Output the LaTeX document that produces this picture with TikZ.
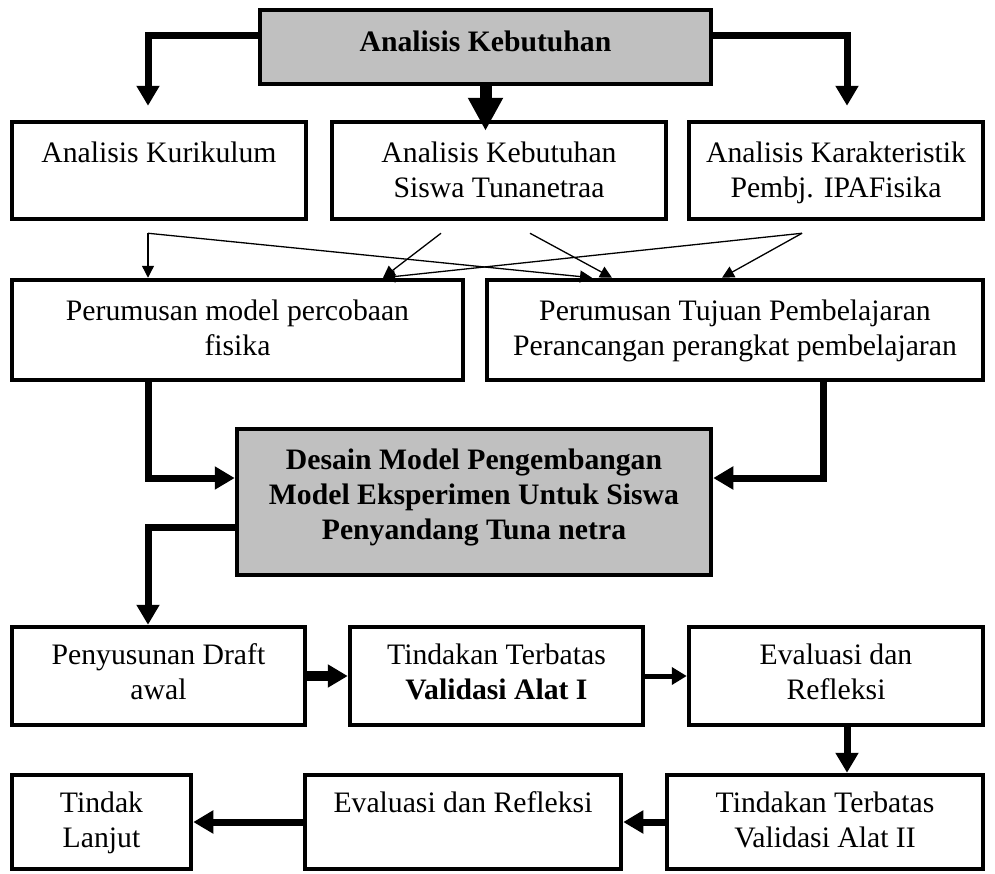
\documentclass[tikz,border=0pt]{standalone}
\usepackage{fontspec}
\setmainfont{Liberation Serif}
\usetikzlibrary{arrows.meta}
\definecolor{boxgray}{RGB}{192,192,192}
\begin{document}
\begin{tikzpicture}[x=1pt,y=-1pt,
  box/.style={draw, line width=4.5pt, rectangle, inner sep=0pt, align=center,
    font=\fontsize{29.7}{35}\selectfont, text depth=0pt},
  graybox/.style={box, fill=boxgray},
  thk/.style={line width=7pt, -{Triangle[width=22pt,length=20pt]}},
  thkb/.style={line width=10pt, -{Triangle[width=22pt,length=20pt]}},
  thkc/.style={line width=5pt, -{Triangle[width=17pt,length=15pt]}},
  thkx/.style={line width=12pt, -{Triangle[width=33pt,length=33pt]}},
  thn/.style={line width=1.3pt, -{Triangle[width=12pt,length=12pt]}}
]
\useasboundingbox (0,0) rectangle (995,873);

% nodes
\node[graybox, minimum width=451pt, minimum height=74pt, text depth=12pt] (top) at (485.5,47) {\bfseries Analisis Kebutuhan};

\node[box, minimum width=294pt, minimum height=97pt, text depth=2pt] (kur) at (159,170.5) {Analisis Kurikulum\\\mbox{}};
\node[box, minimum width=334pt, minimum height=97pt, text depth=2pt] (sis) at (499,170.5) {Analisis Kebutuhan\\Siswa Tunanetraa};
\node[box, minimum width=294pt, minimum height=97pt, text depth=2pt] (kar) at (836,170.5) {Analisis Karakteristik\\Pembj. IPAFisika};

\node[box, minimum width=451pt, minimum height=100pt, text depth=5pt] (mod) at (237.5,330) {Perumusan model percobaan\\fisika};
\node[box, minimum width=496pt, minimum height=100pt, text depth=5pt] (tuj) at (735,330) {Perumusan Tujuan Pembelajaran\\Perancangan perangkat pembelajaran};

\node[graybox, minimum width=474pt, minimum height=146pt, text depth=15pt, font=\fontsize{29.7}{35}\selectfont\bfseries] (des) at (474,502) {Desain Model Pengembangan\\Model Eksperimen Untuk Siswa\\Penyandang Tuna netra};

\node[box, minimum width=293pt, minimum height=98pt, text depth=9pt] (dra) at (158.5,676) {Penyusunan Draft\\awal};
\node[box, minimum width=293pt, minimum height=98pt, text depth=9pt] (tin) at (496.5,676) {Tindakan Terbatas\\\textbf{Validasi Alat I}};
\node[box, minimum width=294pt, minimum height=98pt, text depth=9pt] (eva) at (836,676) {Evaluasi dan\\Refleksi};

\node[box, minimum width=316pt, minimum height=94pt, text depth=5pt] (val) at (825,822) {Tindakan Terbatas\\Validasi Alat II};
\node[box, minimum width=316pt, minimum height=94pt, text depth=5pt] (ref) at (463,822) {Evaluasi dan Refleksi\\\mbox{}};
\node[box, minimum width=179pt, minimum height=94pt, text depth=5pt] (lan) at (101.5,822) {Tindak\\Lanjut};

% thick connectors from top
\draw[thk] ([yshift=12pt]top.west) -| ([xshift=-11pt,yshift=14pt]kur.north);
\draw[thkx] (top.south) -- ([yshift=-11pt]top.south |- sis.north);
\draw[thk] ([yshift=12pt]top.east) -| ([xshift=11pt,yshift=14pt]kar.north);

% thin connectors
\coordinate (k1) at ([xshift=-11pt,yshift=-12pt]kur.south);
\coordinate (s1) at ([xshift=-58pt,yshift=-12pt]sis.south);
\coordinate (s2) at ([xshift=31pt,yshift=-12pt]sis.south);
\coordinate (r1) at ([xshift=-34pt,yshift=-12pt]kar.south);
\draw[thn] (k1) -- (k1 |- mod.north);
\draw[thn] (k1) -- ([xshift=-143pt]tuj.north);
\draw[thn] (s1) -- ([xshift=145.5pt]mod.north);
\draw[thn] (s2) -- ([xshift=-123pt]tuj.north);
\draw[thn] (r1) -- ([xshift=145.5pt]mod.north);
\draw[thn] (r1) -- ([xshift=-13pt]tuj.north);

% into design box
\draw[thk] ([xshift=-89.5pt]mod.south) |- ([yshift=24pt]des.west);
\draw[thk] ([xshift=88pt]tuj.south) |- ([yshift=24pt]des.east);

% from design box
\draw[thk] ([yshift=-25pt]des.west) -| ([xshift=-10.5pt]dra.north);

% bottom flow
\draw[thkb] (dra.east) -- (tin.west);
\draw[thkc] (tin.east) -- (eva.west);
\draw[thk] ([xshift=11pt]eva.south) -- ([xshift=11pt]eva.south |- val.north);
\draw[thk] (val.west) -- (ref.east);
\draw[thk] (ref.west) -- (lan.east);
\end{tikzpicture}
\end{document}
